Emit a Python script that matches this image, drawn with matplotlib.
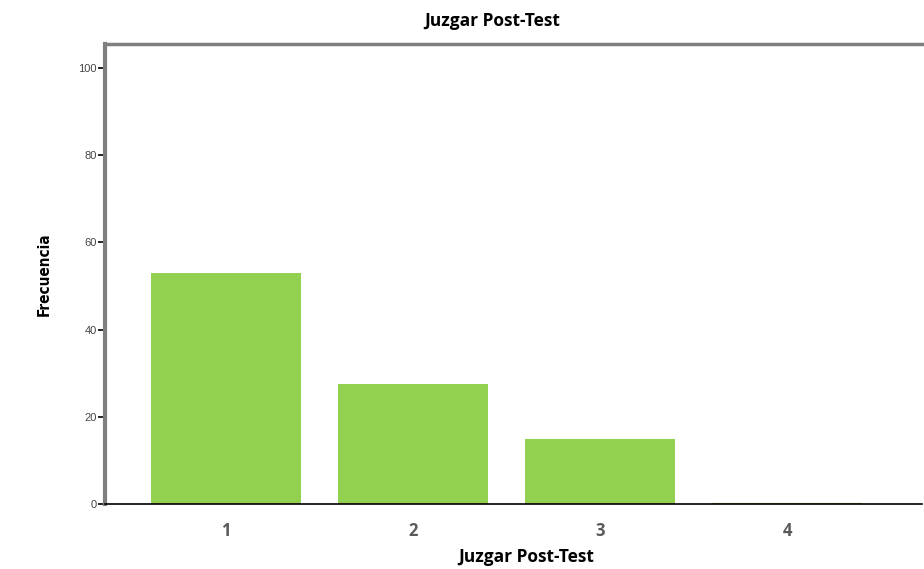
import numpy as np
import matplotlib.pyplot as plt

categories = ['1', '2', '3', '4']
freq = [53, 27.5, 15, 0]
yticks = [0, 20, 40, 60, 80, 100]

bar_color = '#92D050'

fig = plt.figure(figsize=(9.24, 5.69), dpi=100)
ax = fig.add_axes([0.1136, 0.1142, 0.8842, 0.8085])

x = np.arange(len(categories))
w = 0.8
ax.bar(x, freq, width=w, color=bar_color, zorder=2)
# thin olive baseline under each bar, as in the original export
ax.hlines(np.zeros(len(x)), x - w / 2, x + w / 2, color='#b9a85c', lw=1.6, zorder=3)

ax.set_xlim(-0.647, 3.72)
ax.set_ylim(0, 105.5)

ax.set_yticks(yticks)
ax.set_yticklabels([str(v) for v in yticks], fontsize=8, color='#444444',
                   family='Liberation Sans')
ax.tick_params(axis='y', length=5, width=1.2, color='black', pad=1)

ax.set_xticks(x)
ax.set_xticklabels(categories, fontsize=12, color='#595959', fontweight='bold',
                   family='Open Sans')
ax.tick_params(axis='x', length=0, pad=13)

ax.spines['right'].set_visible(False)
ax.spines['left'].set_color('#7f7f7f')
ax.spines['left'].set_linewidth(3)
ax.spines['top'].set_color('#7f7f7f')
ax.spines['top'].set_linewidth(2.5)
ax.spines['bottom'].set_color('black')
ax.spines['bottom'].set_linewidth(1.2)
ax.spines['bottom'].set_zorder(4)

# title and axis title sit off-centre in the original image
fig.text(492 / 924, 1 - 21 / 569, 'Juzgar Post-Test', fontsize=12.5,
         fontweight='bold', family='Open Sans', ha='center', va='center')
fig.text(526 / 924, 1 - 557 / 569, 'Juzgar Post-Test', fontsize=12.5,
         fontweight='bold', family='Open Sans', ha='center', va='center')
ax.set_ylabel('Frecuencia', fontsize=11, fontweight='bold', family='DejaVu Sans',
              fontstretch='condensed', labelpad=19)

fig.savefig('out.png', dpi=100)
